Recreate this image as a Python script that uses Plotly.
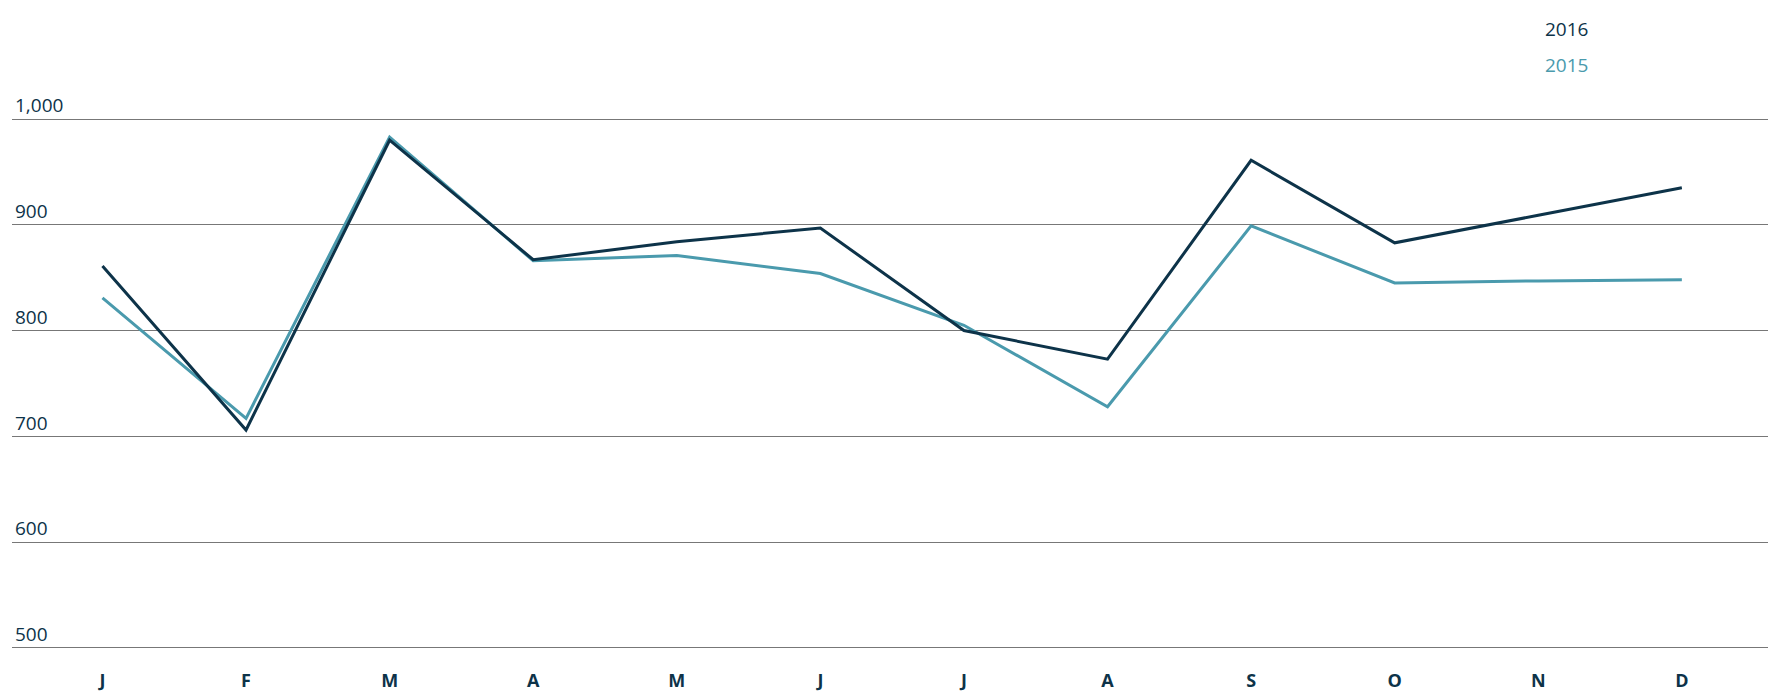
import plotly.graph_objects as go

months = ['J', 'F', 'M', 'A', 'M', 'J', 'J', 'A', 'S', 'O', 'N', 'D']
values_2016 = [861, 706, 980, 867, 884, 897, 800, 773, 961, 883, 909, 935]
values_2015 = [831, 717, 983, 866, 871, 854, 805, 728, 899, 845, 847, 848]
y_ticks = [500, 600, 700, 800, 900, 1000]

dark = '#0d3349'
teal = '#4a9aad'
idx = list(range(len(months)))

fig = go.Figure()
fig.add_trace(go.Scatter(x=idx, y=values_2015, mode='lines', name='2015',
                         line=dict(color=teal, width=3)))
fig.add_trace(go.Scatter(x=idx, y=values_2016, mode='lines', name='2016',
                         line=dict(color=dark, width=3)))

fig.update_xaxes(tickvals=idx, ticktext=['<b>%s</b>' % m for m in months],
                 range=[-0.63, 11.6], showgrid=False, zeroline=False,
                 ticks='outside', ticklen=14, tickcolor='white',
                 tickfont=dict(size=18, color=dark))
fig.update_yaxes(tickvals=y_ticks, ticktext=[f'{v:,}' for v in y_ticks],
                 range=[498, 1105], showgrid=True, gridcolor='#777777', gridwidth=1,
                 zeroline=False, ticklabelposition='inside top',
                 tickfont=dict(size=19, color=dark))

fig.add_annotation(x=0.872, y=0.99, xref='paper', yref='paper', text='2016',
                   showarrow=False, xanchor='left', font=dict(size=19, color=dark))
fig.add_annotation(x=0.872, y=0.935, xref='paper', yref='paper', text='2015',
                   showarrow=False, xanchor='left', font=dict(size=19, color=teal))

fig.update_layout(template='plotly_white', showlegend=False,
                  plot_bgcolor='white', paper_bgcolor='white',
                  font=dict(family='Open Sans'),
                  margin=dict(l=4, r=14, t=0, b=40))

fig.write_html("out.html")
